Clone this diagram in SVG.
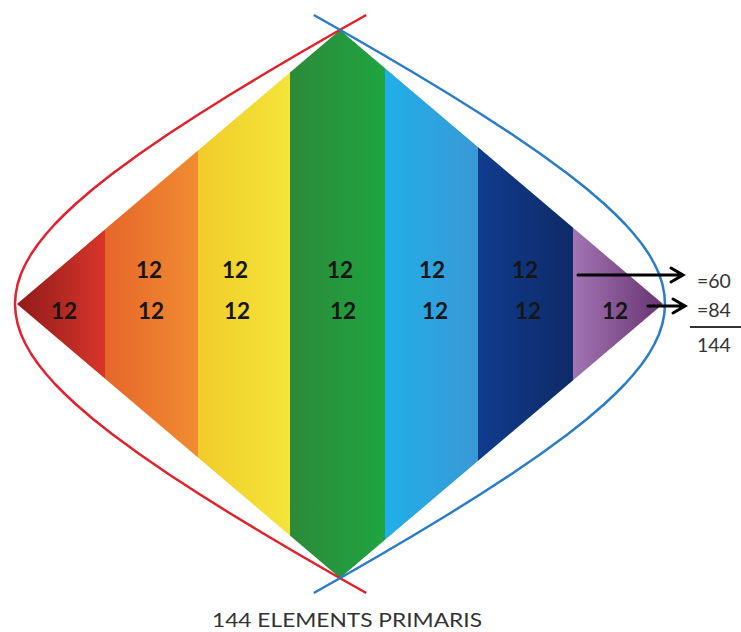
<svg xmlns="http://www.w3.org/2000/svg" width="741" height="632" viewBox="0 0 741 632">
<style>
.n{font-family:Lato,"Liberation Sans",sans-serif;font-weight:bold;font-size:22.5px;fill:#161616;text-anchor:middle}
.t{font-family:Lato,"Liberation Sans",sans-serif;font-size:19.5px;fill:#333}
.arr{stroke:#000;stroke-width:3;fill:none;stroke-linecap:round;stroke-linejoin:miter}
.cv{fill:none;stroke-width:2.5;stroke-linejoin:round}
</style>
<defs>
<clipPath id="dia"><polygon points="17,304 340,30 663,304 340,578"/></clipPath>
<linearGradient id="gR" x1="0" x2="1" y1="0" y2="0"><stop offset="0" stop-color="#8e1a1a"/><stop offset="1" stop-color="#d8352a"/></linearGradient>
<linearGradient id="gO" x1="0" x2="1"><stop offset="0" stop-color="#e6662a"/><stop offset="1" stop-color="#f08c32"/></linearGradient>
<linearGradient id="gY" x1="0" x2="1"><stop offset="0" stop-color="#f1cc2a"/><stop offset="1" stop-color="#f4e43a"/></linearGradient>
<linearGradient id="gG" x1="0" x2="1"><stop offset="0" stop-color="#2c8a39"/><stop offset="1" stop-color="#1fa440"/></linearGradient>
<linearGradient id="gB" x1="0" x2="1"><stop offset="0" stop-color="#20afe8"/><stop offset="1" stop-color="#3a98d6"/></linearGradient>
<linearGradient id="gN" x1="0" x2="1"><stop offset="0" stop-color="#103c8e"/><stop offset="1" stop-color="#0e2a68"/></linearGradient>
<linearGradient id="gP" x1="0" x2="1"><stop offset="0" stop-color="#a274b4"/><stop offset="1" stop-color="#66336f"/></linearGradient>
</defs>
<rect width="741" height="632" fill="#fff"/>
<g id="diamond" clip-path="url(#dia)">
<rect id="s1" x="15" y="20" width="90" height="570" fill="url(#gR)"/>
<rect id="s2" x="105" y="20" width="93" height="570" fill="url(#gO)"/>
<rect id="s3" x="198" y="20" width="92" height="570" fill="url(#gY)"/>
<rect id="s4" x="290" y="20" width="95" height="570" fill="url(#gG)"/>
<rect id="s5" x="385" y="20" width="93" height="570" fill="url(#gB)"/>
<rect id="s6" x="478" y="20" width="95" height="570" fill="url(#gN)"/>
<rect id="s7" x="573" y="20" width="92" height="570" fill="url(#gP)"/>
</g>
<g id="labels">
<text class="n" x="149" y="278">12</text>
<text class="n" x="235" y="278">12</text>
<text class="n" x="340" y="278">12</text>
<text class="n" x="432" y="278">12</text>
<text class="n" x="525" y="278">12</text>
<text class="n" x="64" y="319">12</text>
<text class="n" x="151" y="319">12</text>
<text class="n" x="237" y="319">12</text>
<text class="n" x="343" y="319">12</text>
<text class="n" x="435" y="319">12</text>
<text class="n" x="528" y="319">12</text>
<text class="n" x="615" y="319">12</text>
</g>
<g id="curves">
<path id="red" class="cv" stroke="#e3202b" d="M366.2,15 L339.7,30 L298.1,54 L264.2,74 L231.1,94 L199.2,114 L168.4,134 L139.3,154 L112,174 L93,189 L75.6,204 L64.9,214 L55,224 L46.1,234 L38.1,244 L31.2,254 L25.5,264 L20.9,274 L17.65,284 L15.7,294 L15,304 L15.7,314 L17.65,324 L20.9,334 L25.5,344 L31.2,354 L38.1,364 L46.1,374 L55,384 L64.9,394 L75.6,404 L93,419 L112,434 L139.3,454 L168.4,474 L199.2,494 L231.1,514 L264.2,534 L298.1,554 L339.7,578 L366.2,593"/>
<path id="blue" class="cv" stroke="#2a7cc6" d="M313.8,15 L340.3,30 L381.9,54 L415.8,74 L448.9,94 L480.8,114 L511.6,134 L540.7,154 L568,174 L587,189 L604.4,204 L615.1,214 L625,224 L633.9,234 L641.9,244 L648.8,254 L654.5,264 L659.1,274 L662.35,284 L664.3,294 L665,304 L664.3,314 L662.35,324 L659.1,334 L654.5,344 L648.8,354 L641.9,364 L633.9,374 L625,384 L615.1,394 L604.4,404 L587,419 L568,434 L540.7,454 L511.6,474 L480.8,494 L448.9,514 L415.8,534 L381.9,554 L340.3,578 L313.8,593"/>
</g>
<g id="connectors">
<path class="arr" d="M578,275 H682 M671,268 L683,275 L671,282"/>
<path class="arr" d="M648,306 H684 M673,299 L685,306 L673,313"/>
</g>
<g id="sums">
<text class="t" x="697" y="288">=60</text>
<text class="t" x="697" y="317">=84</text>
<line x1="690" y1="327" x2="741" y2="327" stroke="#333" stroke-width="2"/>
<text class="t" x="697" y="352">144</text>
</g>
<text id="caption" class="t" x="212" y="627" textLength="270" lengthAdjust="spacingAndGlyphs">144 ELEMENTS PRIMARIS</text>
</svg>
